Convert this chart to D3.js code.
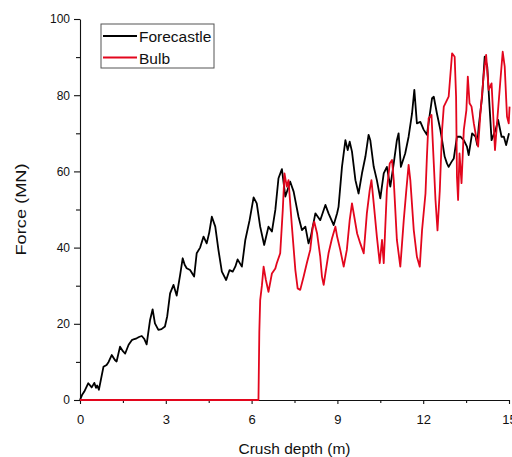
<!DOCTYPE html>
<html>
<head>
<meta charset="utf-8">
<script src="https://cdn.jsdelivr.net/npm/d3@7"></script>
<style>
    body { margin: 0; background: #fff; }
    svg { font-family: "Liberation Sans", Arial, sans-serif; }
</style>
</head>
<body>
<svg id="chart" width="512" height="457"></svg>
<script>
// crush depth (m) and force (MN)
const forecastleDepth = [0, 0.07, 0.15, 0.29, 0.41, 0.5, 0.56, 0.6, 0.66, 0.82, 0.93, 1.0, 1.11, 1.22, 1.28, 1.4, 1.5, 1.58, 1.7, 1.81, 1.9, 1.98, 2.08, 2.16, 2.25, 2.33, 2.45, 2.54, 2.62, 2.74, 2.85, 2.97, 3.05, 3.15, 3.27, 3.38, 3.5, 3.59, 3.66, 3.73, 3.85, 3.99, 4.08, 4.2, 4.32, 4.43, 4.52, 4.61, 4.73, 4.84, 4.96, 5.11, 5.23, 5.34, 5.43, 5.51, 5.66, 5.78, 5.93, 6.07, 6.18, 6.3, 6.44, 6.59, 6.71, 6.83, 6.94, 7.06, 7.18, 7.35, 7.47, 7.64, 7.76, 7.88, 7.99, 8.07, 8.23, 8.4, 8.58, 8.69, 8.87, 8.99, 9.04, 9.16, 9.28, 9.36, 9.43, 9.51, 9.63, 9.74, 9.86, 9.98, 10.09, 10.15, 10.27, 10.38, 10.5, 10.62, 10.73, 10.85, 10.97, 11.08, 11.14, 11.22, 11.37, 11.49, 11.61, 11.69, 11.78, 11.9, 12.02, 12.13, 12.22, 12.31, 12.37, 12.48, 12.6, 12.66, 12.75, 12.83, 12.89, 12.99, 13.07, 13.18, 13.3, 13.42, 13.53, 13.59, 13.71, 13.83, 13.89, 13.94, 14.06, 14.15, 14.24, 14.32, 14.39, 14.53, 14.62, 14.74, 14.82, 14.9, 15.0];
const forecastleForce = [0, 1.3, 2.2, 4.4, 3.3, 4.5, 3.2, 3.8, 2.7, 8.7, 9.2, 10.0, 11.8, 10.5, 10.1, 14.0, 12.8, 12.2, 14.5, 15.7, 16.0, 16.2, 16.6, 16.8, 16.0, 14.6, 21.0, 23.8, 20.1, 18.4, 18.6, 19.3, 22.0, 28.0, 30.2, 27.4, 32.8, 37.2, 35.5, 34.6, 34.1, 32.4, 38.5, 40.0, 42.9, 41.1, 44.0, 48.1, 45.5, 39.4, 33.7, 31.5, 34.1, 33.7, 35.0, 36.9, 35.0, 42.0, 47.2, 53.2, 51.6, 45.5, 40.7, 45.5, 44.2, 49.9, 58.2, 60.6, 53.4, 57.3, 54.7, 48.1, 44.6, 45.5, 41.1, 42.9, 49.0, 47.2, 51.2, 49.0, 45.9, 49.0, 50.7, 61.2, 68.2, 65.6, 67.8, 65.2, 57.7, 54.2, 59.5, 63.9, 69.6, 68.2, 61.2, 57.7, 52.9, 59.5, 61.2, 56.0, 62.1, 68.2, 70.0, 61.2, 64.7, 69.1, 75.2, 81.4, 72.6, 73.0, 70.9, 69.6, 74.4, 79.2, 79.6, 75.2, 70.9, 68.2, 63.9, 62.1, 61.2, 62.5, 63.4, 69.1, 69.1, 68.2, 66.5, 64.3, 70.0, 69.1, 66.9, 71.7, 79.6, 90.1, 87.5, 77.0, 68.2, 70.9, 73.5, 69.1, 69.1, 66.9, 70.0];

const bulbDepth = [0, 6.24, 6.27, 6.3, 6.36, 6.42, 6.5, 6.59, 6.71, 6.83, 6.88, 7.0, 7.09, 7.15, 7.23, 7.29, 7.41, 7.53, 7.61, 7.7, 7.82, 7.93, 8.05, 8.14, 8.19, 8.29, 8.4, 8.46, 8.52, 8.58, 8.69, 8.81, 8.93, 8.99, 9.1, 9.22, 9.33, 9.43, 9.51, 9.59, 9.69, 9.8, 9.92, 10.03, 10.13, 10.19, 10.27, 10.38, 10.48, 10.56, 10.62, 10.73, 10.83, 10.91, 10.97, 11.08, 11.2, 11.32, 11.41, 11.49, 11.55, 11.67, 11.78, 11.88, 11.96, 12.08, 12.13, 12.19, 12.29, 12.37, 12.43, 12.5, 12.58, 12.66, 12.72, 12.89, 13.01, 13.1, 13.15, 13.18, 13.22, 13.27, 13.34, 13.42, 13.51, 13.56, 13.62, 13.69, 13.77, 13.85, 13.92, 14.0, 14.12, 14.2, 14.29, 14.39, 14.45, 14.51, 14.59, 14.7, 14.78, 14.85, 14.93, 14.99, 15.02];
const bulbForce = [0, 0, 18.0, 26.2, 30.0, 35.0, 31.5, 28.4, 33.2, 34.5, 35.9, 38.5, 49.9, 59.5, 56.0, 57.7, 45.5, 34.1, 29.3, 28.9, 32.4, 35.9, 39.4, 45.5, 46.8, 43.7, 37.6, 32.4, 30.2, 33.2, 38.5, 42.4, 45.5, 42.9, 39.4, 35.0, 39.4, 47.2, 51.6, 48.1, 43.7, 41.1, 38.5, 49.0, 55.1, 57.7, 51.6, 42.9, 35.9, 42.0, 35.9, 55.1, 62.1, 63.0, 57.7, 42.0, 35.0, 47.2, 55.1, 61.7, 57.7, 44.6, 37.6, 35.0, 44.6, 54.2, 63.9, 73.9, 74.8, 62.1, 52.5, 44.5, 55.0, 70.9, 77.0, 79.6, 91.0, 90.1, 79.6, 58.6, 52.5, 64.7, 56.9, 70.9, 76.1, 84.9, 77.9, 77.0, 72.6, 69.1, 66.5, 75.2, 85.7, 90.6, 81.4, 83.1, 74.4, 65.6, 73.5, 84.0, 91.4, 87.5, 74.4, 72.6, 77.0];

const xTicks = [0, 3, 6, 9, 12, 15];
const xMinorTicks = [1.5, 4.5, 7.5, 10.5, 13.5];
const yTicks = [0, 20, 40, 60, 80, 100];
const yMinorTicks = [10, 30, 50, 70, 90];

const seriesNames = ["Forecastle", "Bulb"];
const seriesColors = ["#000000", "#e3061d"];

const svg = d3.select("#chart");
const width = +svg.attr("width");
const height = +svg.attr("height");
const margin = { top: 19, right: 3, bottom: 57, left: 80 };
const chartWidth = width - margin.left - margin.right;
const chartHeight = height - margin.top - margin.bottom;

const chartArea = svg.append("g")
    .attr("transform", `translate(${margin.left},${margin.top})`);

const xScale = d3.scaleLinear().domain([0, 15]).range([0, chartWidth]);
const yScale = d3.scaleLinear().domain([0, 100]).range([chartHeight, 0]);

// major + minor ticks, all outward
const xAxisGroup = chartArea.append("g")
    .attr("transform", `translate(0,${chartHeight})`)
    .call(d3.axisBottom(xScale).tickValues(xTicks).tickSizeInner(4).tickSizeOuter(0).tickPadding(11));
chartArea.append("g")
    .attr("transform", `translate(0,${chartHeight})`)
    .call(d3.axisBottom(xScale).tickValues(xMinorTicks).tickSize(3).tickFormat(""))
    .call((g) => g.select(".domain").remove());

const yAxisGroup = chartArea.append("g")
    .call(d3.axisLeft(yScale).tickValues(yTicks).tickSizeInner(6).tickSizeOuter(0).tickPadding(4));
chartArea.append("g")
    .call(d3.axisLeft(yScale).tickValues(yMinorTicks).tickSize(4).tickFormat(""))
    .call((g) => g.select(".domain").remove());

chartArea.selectAll(".tick text")
    .style("fill", "#111")
    .style("font-family", "\"Liberation Sans\", Arial, sans-serif");
xAxisGroup.selectAll(".tick text").style("font-size", "13px");
yAxisGroup.selectAll(".tick text").style("font-size", "12px");
chartArea.selectAll(".domain, .tick line").style("stroke", "#111").style("stroke-width", 1.1);

// axis titles
chartArea.append("text")
    .attr("x", chartWidth / 2)
    .attr("y", chartHeight + 54)
    .attr("text-anchor", "middle")
    .attr("textLength", 112)
    .attr("lengthAdjust", "spacingAndGlyphs")
    .style("font-size", "15.5px")
    .style("fill", "#111")
    .text("Crush depth (m)");

chartArea.append("text")
    .attr("transform", `translate(${-54},${chartHeight / 2}) rotate(-90)`)
    .attr("text-anchor", "middle")
    .attr("textLength", 92)
    .attr("lengthAdjust", "spacingAndGlyphs")
    .style("font-size", "15px")
    .style("fill", "#111")
    .text("Force (MN)");

const line = d3.line()
    .x((d) => xScale(d[0]))
    .y((d) => yScale(d[1]));

const forecastle = forecastleDepth.map((d, i) => [d, forecastleForce[i]]);
const bulb = bulbDepth.map((d, i) => [d, bulbForce[i]]);

[forecastle, bulb].forEach((data, i) => {
    chartArea.append("path")
        .datum(data)
        .attr("class", "line")
        .attr("d", line)
        .style("fill", "none")
        .style("stroke", seriesColors[i])
        .style("stroke-width", 1.8)
        .style("stroke-linejoin", "round");
});

// legend
const legend = svg.append("g").attr("transform", "translate(101,24)");
legend.append("rect")
    .attr("width", 113)
    .attr("height", 44)
    .style("fill", "#fff")
    .style("stroke", "#555")
    .style("stroke-width", 1);

seriesNames.forEach((name, i) => {
    const y = 12 + i * 21.5;
    legend.append("line")
        .attr("x1", 2).attr("x2", 36)
        .attr("y1", y).attr("y2", y)
        .style("stroke", seriesColors[i])
        .style("stroke-width", 2);
    legend.append("text")
        .attr("x", 38)
        .attr("y", y + 6)
        .style("font-size", "15.5px")
        .style("fill", "#111")
        .text(name);
});
</script>
</body>
</html>
